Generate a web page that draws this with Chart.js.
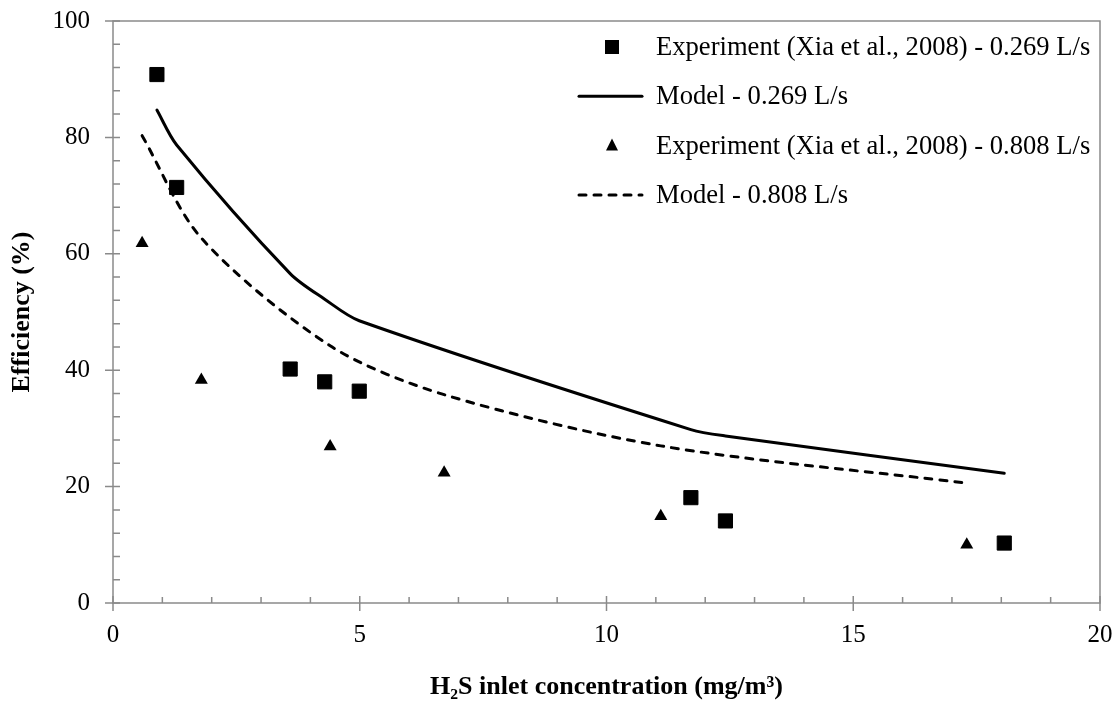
<!DOCTYPE html>
<html>
<head>
<meta charset="utf-8">
<script src="https://cdn.jsdelivr.net/npm/chart.js@4.4.1/dist/chart.umd.min.js"></script>
<style>
  body { margin: 0; background: #fff; }
  canvas { display: block; }
</style>
</head>
<body>
<canvas id="chart" width="1118" height="704"></canvas>
<script>
// values
const expLowX = [0.89, 1.29, 3.59, 4.29, 4.99, 11.71, 12.41, 18.06];
const expLowY = [90.8, 71.4, 40.2, 38.0, 36.4, 18.1, 14.1, 10.3];
const modelLowY = [84.7, 78.7, 56.6, 52.2, 48.5, 29.8, 28.7, 22.3];

const expHighX = [0.59, 1.79, 4.40, 6.71, 11.10, 17.30];
const expHighY = [61.8, 38.3, 26.9, 22.4, 14.9, 10.0];
const modelHighY = [80.3, 62.7, 44.2, 35.8, 27.0, 20.6];

const seriesLabels = [
  'Experiment (Xia et al., 2008) - 0.269 L/s',
  'Model - 0.269 L/s',
  'Experiment (Xia et al., 2008) - 0.808 L/s',
  'Model - 0.808 L/s',
];

const xTicks = [0, 5, 10, 15, 20];
const yTicks = [0, 20, 40, 60, 80, 100];
const xTitle = 'H\u2082S inlet concentration (mg/m\u00b3)';
const yTitle = 'Efficiency (%)';

const axisGray = '#8a8a8a';
const serif = '"Liberation Serif", "Times New Roman", serif';

const pts = (xs, ys) => xs.map((x, i) => ({ x: x, y: ys[i] }));

// frame + tick marks (major crossing, minor inside)
const framePlugin = {
  id: 'frame',
  afterDraw(chart) {
    const { ctx, chartArea: a, scales: { x, y } } = chart;
    ctx.save();
    ctx.strokeStyle = axisGray;
    ctx.lineWidth = 1.5;
    ctx.strokeRect(a.left, a.top, a.right - a.left, a.bottom - a.top);
    ctx.beginPath();
    for (let v = 0; v <= 20; v++) {
      const px = x.getPixelForValue(v);
      const major = v % 5 === 0;
      ctx.moveTo(px, a.bottom - (major ? 7 : 6));
      ctx.lineTo(px, a.bottom + (major ? 8 : 0));
    }
    for (let v = 0; v <= 100; v += 4) {
      const py = y.getPixelForValue(v);
      const major = v % 20 === 0;
      ctx.moveTo(a.left - (major ? 8 : 0), py);
      ctx.lineTo(a.left + 7, py);
    }
    ctx.stroke();
    ctx.restore();
  }
};

// legend inside the plot, top right
const legendPlugin = {
  id: 'insideLegend',
  afterDraw(chart) {
    const ctx = chart.ctx;
    const rowY = 47, rowGap = 49.3;
    const markX = 612, textX = 656;
    ctx.save();
    ctx.font = '26.6px ' + serif;
    ctx.textBaseline = 'middle';
    ctx.textAlign = 'left';
    chart.data.datasets.forEach((ds, i) => {
      const cy = rowY + i * rowGap;
      ctx.fillStyle = '#000';
      ctx.strokeStyle = '#000';
      if (ds.showLine) {
        ctx.lineWidth = ds.borderWidth;
        ctx.lineCap = ds.borderCapStyle || 'butt';
        ctx.setLineDash(ds.borderDash || []);
        ctx.beginPath();
        ctx.moveTo(579, cy);
        ctx.lineTo(642, cy);
        ctx.stroke();
        ctx.setLineDash([]);
      } else if (ds.pointStyle === 'rect') {
        ctx.fillRect(markX - 7, cy - 7, 14, 14);
      } else {
        ctx.beginPath();
        ctx.moveTo(markX, cy - 7);
        ctx.lineTo(markX + 6, cy + 5);
        ctx.lineTo(markX - 6, cy + 5);
        ctx.closePath();
        ctx.fill();
      }
      ctx.fillText(ds.label, textX, cy + 1);
    });
    ctx.restore();
  }
};

new Chart(document.getElementById('chart'), {
  type: 'scatter',
  data: {
    datasets: [
      {
        label: seriesLabels[0],
        data: pts(expLowX, expLowY),
        pointStyle: 'rect',
        pointRadius: 10,
        pointBorderWidth: 1,
        backgroundColor: '#000',
        borderColor: '#000',
        order: 1,
      },
      {
        label: seriesLabels[1],
        data: pts(expLowX, modelLowY),
        showLine: true,
        borderColor: '#000',
        borderWidth: 3,
        borderCapStyle: 'round',
        tension: 0.3,
        pointRadius: 0,
        order: 2,
      },
      {
        label: seriesLabels[2],
        data: pts(expHighX, expHighY),
        pointStyle: 'triangle',
        pointRadius: 7.5,
        pointBorderWidth: 0,
        backgroundColor: '#000',
        borderColor: '#000',
        order: 1,
      },
      {
        label: seriesLabels[3],
        data: pts(expHighX, modelHighY),
        showLine: true,
        borderColor: '#000',
        borderWidth: 3,
        borderDash: [7, 8],
        borderCapStyle: 'round',
        tension: 0.3,
        pointRadius: 0,
        order: 2,
      },
    ],
  },
  options: {
    responsive: false,
    animation: false,
    layout: { padding: { top: 21, right: 18, left: 0, bottom: 0 } },
    plugins: {
      legend: { display: false },
      tooltip: { enabled: false },
    },
    scales: {
      x: {
        type: 'linear',
        min: 0,
        max: 20,
        afterBuildTicks: (s) => { s.ticks = xTicks.map(v => ({ value: v })); },
        afterFit: (s) => { s.height = 101; s.paddingLeft = 0; s.paddingRight = 0; },
        grid: { display: false, drawTicks: false },
        border: { display: false },
        ticks: { color: '#000', padding: 17, font: { family: serif, size: 25 } },
        title: {
          display: true,
          text: xTitle,
          color: '#000',
          padding: { top: 0, bottom: 1 },
          font: { family: serif, size: 26, weight: 'bold' },
        },
      },
      y: {
        type: 'linear',
        min: 0,
        max: 100,
        afterBuildTicks: (s) => { s.ticks = yTicks.map(v => ({ value: v })); },
        afterFit: (s) => { s.width = 113; s.paddingTop = 0; s.paddingBottom = 0; },
        grid: { display: false, drawTicks: false },
        border: { display: false },
        ticks: { color: '#000', padding: 23, font: { family: serif, size: 25 } },
        title: {
          display: true,
          text: yTitle,
          color: '#000',
          padding: { top: 7, bottom: 0 },
          font: { family: serif, size: 26, weight: 'bold' },
        },
      },
    },
  },
  plugins: [framePlugin, legendPlugin],
});
</script>
</body>
</html>
